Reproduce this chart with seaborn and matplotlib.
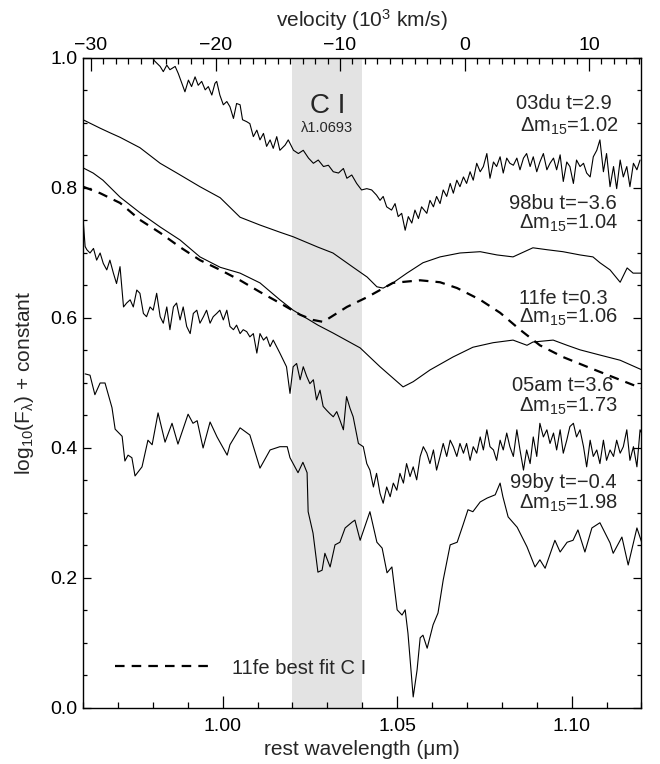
import numpy as np
import pandas as pd
import matplotlib
matplotlib.use("Agg")
import matplotlib.pyplot as plt
from matplotlib.ticker import MultipleLocator, FixedLocator, FormatStrFormatter
import seaborn as sns

# ---------------- data ----------------
W_03DU = [0.9780, 0.9804, 0.9821, 0.9830, 0.9840, 0.9849, 0.9864, 0.9873, 0.9883, 0.9892,
          0.9902, 0.9911, 0.9921, 0.9930, 0.9940, 0.9950, 0.9959, 0.9969, 0.9978, 0.9983,
          0.9992, 1.0002, 1.0012, 1.0021, 1.0031, 1.0040, 1.0050, 1.0057, 1.0069, 1.0078,
          1.0088, 1.0098, 1.0107, 1.0117, 1.0126, 1.0136, 1.0145, 1.0155, 1.0164,
          1.0179, 1.0188, 1.0203, 1.0217, 1.0231, 1.0246, 1.0260, 1.0274, 1.0289, 1.0303,
          1.0317, 1.0332, 1.0346, 1.0356, 1.0370, 1.0384, 1.0398, 1.0413, 1.0427, 1.0441,
          1.0451, 1.0460, 1.0470, 1.0484, 1.0494, 1.0503, 1.0513, 1.0523, 1.0532, 1.0542,
          1.0551, 1.0561, 1.0570, 1.0585, 1.0594, 1.0604, 1.0613, 1.0623, 1.0632, 1.0642,
          1.0652, 1.0661, 1.0671, 1.0680, 1.0690, 1.0699, 1.0709, 1.0718, 1.0728, 1.0738,
          1.0747, 1.0757, 1.0766, 1.0776, 1.0785, 1.0795, 1.0804, 1.0814, 1.0823, 1.0833,
          1.0843, 1.0852, 1.0862, 1.0871, 1.0881, 1.0890, 1.0900, 1.0909, 1.0919, 1.0929,
          1.0938, 1.0948, 1.0957, 1.0967, 1.0976, 1.0986, 1.0995, 1.1005, 1.1014, 1.1024,
          1.1034, 1.1043, 1.1053, 1.1062, 1.1072, 1.1081, 1.1091, 1.1100, 1.1110, 1.1120,
          1.1129, 1.1139, 1.1148, 1.1158, 1.1167, 1.1177, 1.1187, 1.1196]
F_03DU = [1.030, 0.996, 0.987, 0.979, 0.989, 0.982, 0.987, 0.976, 0.961, 0.948,
          0.966, 0.956, 0.971, 0.958, 0.964, 0.951, 0.956, 0.943, 0.961, 0.964,
          0.943, 0.928, 0.933, 0.925, 0.907, 0.930, 0.928, 0.905, 0.902, 0.899,
          0.879, 0.889, 0.874, 0.884, 0.864, 0.874, 0.861, 0.879, 0.858,
          0.866, 0.874, 0.858, 0.853, 0.858, 0.846, 0.838, 0.843, 0.833, 0.835,
          0.825, 0.823, 0.830, 0.815, 0.820, 0.807, 0.797, 0.799, 0.797, 0.789,
          0.781, 0.787, 0.771, 0.766, 0.776, 0.756, 0.761, 0.735, 0.756, 0.746,
          0.766, 0.753, 0.771, 0.761, 0.781, 0.771, 0.787, 0.776, 0.797, 0.787,
          0.807, 0.792, 0.812, 0.802, 0.817, 0.807, 0.825, 0.812, 0.838, 0.825,
          0.833, 0.853, 0.815, 0.840, 0.833, 0.848, 0.823, 0.846, 0.838, 0.835,
          0.846, 0.828, 0.846, 0.853, 0.833, 0.848, 0.825, 0.840, 0.853, 0.828,
          0.838, 0.846, 0.828, 0.851, 0.810, 0.840, 0.833, 0.807, 0.843, 0.833,
          0.838, 0.823, 0.817, 0.848, 0.858, 0.874, 0.825, 0.853, 0.802, 0.833,
          0.799, 0.843, 0.817, 0.833, 0.802, 0.838, 0.828, 0.843]

W_98BU = [0.9600, 0.9649, 0.9677, 0.9706, 0.9763, 0.9821, 0.9869, 0.9935, 0.9993, 1.0050,
          1.0107, 1.0164, 1.0202, 1.0273, 1.0316, 1.0374, 1.0414, 1.0442, 1.0460, 1.0488,
          1.0528, 1.0574, 1.0623, 1.0680, 1.0738, 1.0786, 1.0832, 1.0889, 1.0930, 1.0975,
          1.1024, 1.1061, 1.1081, 1.1110, 1.1139, 1.1159, 1.1176, 1.1202]
F_98BU = [0.905, 0.892, 0.885, 0.878, 0.862, 0.838, 0.823, 0.802, 0.785, 0.755,
          0.743, 0.732, 0.725, 0.709, 0.700, 0.678, 0.663, 0.648, 0.646, 0.654,
          0.669, 0.685, 0.694, 0.700, 0.702, 0.697, 0.694, 0.708, 0.705, 0.702,
          0.697, 0.694, 0.685, 0.674, 0.655, 0.677, 0.669, 0.669]

W_11FE = [0.9600, 0.9629, 0.9657, 0.9706, 0.9763, 0.9821, 0.9878, 0.9935, 0.9993, 1.0050,
          1.0107, 1.0164, 1.0202, 1.0273, 1.0316, 1.0394, 1.0451, 1.0517, 1.0546, 1.0594,
          1.0660, 1.0717, 1.0775, 1.0832, 1.0872, 1.0889, 1.0947, 1.0987, 1.1024, 1.1081,
          1.1139, 1.1202]
F_11FE = [0.831, 0.823, 0.812, 0.786, 0.762, 0.740, 0.720, 0.694, 0.678, 0.669,
          0.654, 0.628, 0.612, 0.589, 0.577, 0.554, 0.525, 0.494, 0.502, 0.520,
          0.540, 0.555, 0.562, 0.566, 0.558, 0.563, 0.566, 0.558, 0.551, 0.543,
          0.535, 0.520]

W_FIT = [0.9600, 0.9649, 0.9706, 0.9763, 0.9821, 0.9878, 0.9935, 0.9993, 1.0050, 1.0107,
         1.0164, 1.0222, 1.0259, 1.0288, 1.0356, 1.0414, 1.0488, 1.0566, 1.0623, 1.0672,
         1.0738, 1.0795, 1.0852, 1.0909, 1.0975, 1.1044, 1.1119, 1.1176, 1.1202]
F_FIT = [0.802, 0.792, 0.777, 0.751, 0.731, 0.709, 0.689, 0.674, 0.658, 0.640,
         0.623, 0.605, 0.597, 0.594, 0.617, 0.632, 0.654, 0.658, 0.655, 0.646,
         0.628, 0.608, 0.582, 0.558, 0.540, 0.525, 0.509, 0.497, 0.492]

W_05AM = [0.9601, 0.9606, 0.9611, 0.9620, 0.9630, 0.9639, 0.9649, 0.9658, 0.9668, 0.9677,
          0.9687, 0.9696, 0.9706, 0.9716, 0.9725, 0.9735, 0.9744, 0.9754, 0.9763, 0.9773,
          0.9782, 0.9792, 0.9801, 0.9811, 0.9821, 0.9830, 0.9840, 0.9849, 0.9859, 0.9868,
          0.9878, 0.9887, 0.9897, 0.9907, 0.9916, 0.9926, 0.9935, 0.9945, 0.9954, 0.9964,
          0.9973, 0.9983, 0.9992, 1.0002, 1.0012, 1.0021, 1.0031, 1.0040, 1.0050, 1.0059,
          1.0069, 1.0078, 1.0088, 1.0098, 1.0107, 1.0117, 1.0126, 1.0136, 1.0145, 1.0164,
          1.0183, 1.0193, 1.0202, 1.0212, 1.0222, 1.0231, 1.0241, 1.0250, 1.0260, 1.0269,
          1.0279, 1.0288, 1.0298, 1.0307, 1.0317, 1.0327, 1.0336, 1.0346, 1.0355, 1.0365,
          1.0374, 1.0389, 1.0403, 1.0413, 1.0422, 1.0432, 1.0441, 1.0451, 1.0460, 1.0470,
          1.0480, 1.0489, 1.0499, 1.0508, 1.0518, 1.0527, 1.0537, 1.0546, 1.0556, 1.0566,
          1.0575, 1.0585, 1.0594, 1.0604, 1.0613, 1.0623, 1.0632, 1.0642, 1.0652, 1.0661,
          1.0671, 1.0680, 1.0690, 1.0699, 1.0709, 1.0718, 1.0728, 1.0738, 1.0747, 1.0757,
          1.0766, 1.0776, 1.0785, 1.0795, 1.0804, 1.0814, 1.0823, 1.0833, 1.0843, 1.0852,
          1.0862, 1.0871, 1.0881, 1.0890, 1.0900, 1.0909, 1.0919, 1.0929, 1.0938, 1.0948,
          1.0957, 1.0967, 1.0976, 1.0986, 1.0995, 1.1005, 1.1014, 1.1024, 1.1034, 1.1043,
          1.1053, 1.1062, 1.1072, 1.1081, 1.1091, 1.1100, 1.1110, 1.1120, 1.1129, 1.1139,
          1.1148, 1.1158, 1.1167, 1.1177, 1.1187, 1.1196, 1.1206]
F_05AM = [0.746, 0.710, 0.705, 0.700, 0.707, 0.689, 0.700, 0.684, 0.674, 0.689,
          0.669, 0.653, 0.679, 0.617, 0.623, 0.628, 0.617, 0.643, 0.638, 0.607,
          0.602, 0.617, 0.612, 0.638, 0.602, 0.592, 0.617, 0.582, 0.617, 0.623,
          0.597, 0.617, 0.587, 0.576, 0.607, 0.612, 0.592, 0.602, 0.612, 0.592,
          0.602, 0.607, 0.612, 0.597, 0.612, 0.587, 0.582, 0.589, 0.576, 0.582,
          0.579, 0.571, 0.576, 0.546, 0.576, 0.566, 0.571, 0.556, 0.566, 0.546,
          0.525, 0.484, 0.525, 0.530, 0.505, 0.525, 0.510, 0.499, 0.505, 0.474,
          0.489, 0.464, 0.458, 0.453, 0.448, 0.456, 0.443, 0.428, 0.479, 0.461,
          0.448, 0.407, 0.402, 0.376, 0.366, 0.340, 0.361, 0.330, 0.315, 0.340,
          0.325, 0.346, 0.335, 0.361, 0.346, 0.376, 0.356, 0.371, 0.351, 0.387,
          0.402, 0.392, 0.376, 0.397, 0.366, 0.387, 0.407, 0.387, 0.412, 0.402,
          0.387, 0.407, 0.392, 0.407, 0.381, 0.402, 0.392, 0.417, 0.397, 0.428,
          0.402, 0.397, 0.381, 0.412, 0.397, 0.423, 0.402, 0.387, 0.428, 0.397,
          0.366, 0.397, 0.376, 0.417, 0.387, 0.438, 0.417, 0.428, 0.407, 0.423,
          0.397, 0.428, 0.392, 0.412, 0.433, 0.438, 0.417, 0.428, 0.402, 0.371,
          0.412, 0.387, 0.397, 0.376, 0.412, 0.381, 0.397, 0.387, 0.412, 0.392,
          0.402, 0.428, 0.381, 0.402, 0.371, 0.428, 0.417]

W_99BY = [0.9606, 0.9620, 0.9634, 0.9649, 0.9663, 0.9683, 0.9692, 0.9712, 0.9720, 0.9729,
          0.9740, 0.9749, 0.9769, 0.9786, 0.9798, 0.9815, 0.9835, 0.9855, 0.9872, 0.9901,
          0.9915, 0.9927, 0.9944, 0.9964, 0.9984, 1.0013, 1.0021, 1.0050, 1.0078, 1.0107,
          1.0136, 1.0164, 1.0185, 1.0193, 1.0216, 1.0230, 1.0242, 1.0245, 1.0259, 1.0273,
          1.0285, 1.0293, 1.0308, 1.0322, 1.0336, 1.0351, 1.0371, 1.0379, 1.0394, 1.0422,
          1.0442, 1.0457, 1.0471, 1.0485, 1.0500, 1.0514, 1.0523, 1.0531, 1.0546, 1.0557,
          1.0566, 1.0574, 1.0586, 1.0603, 1.0617, 1.0632, 1.0652, 1.0672, 1.0689, 1.0703,
          1.0717, 1.0738, 1.0758, 1.0781, 1.0795, 1.0803, 1.0818, 1.0844, 1.0872, 1.0895,
          1.0909, 1.0924, 1.0952, 1.0967, 1.0987, 1.1004, 1.1018, 1.1038, 1.1058, 1.1081,
          1.1110, 1.1119, 1.1144, 1.1162, 1.1187, 1.1205]
F_99BY = [0.514, 0.512, 0.482, 0.500, 0.500, 0.462, 0.429, 0.418, 0.380, 0.389,
          0.385, 0.357, 0.371, 0.412, 0.405, 0.454, 0.409, 0.438, 0.406, 0.452,
          0.438, 0.442, 0.400, 0.440, 0.417, 0.389, 0.405, 0.431, 0.420, 0.369,
          0.397, 0.402, 0.402, 0.385, 0.362, 0.378, 0.362, 0.302, 0.269, 0.209,
          0.212, 0.238, 0.217, 0.251, 0.255, 0.277, 0.286, 0.289, 0.258, 0.302,
          0.255, 0.246, 0.208, 0.217, 0.151, 0.143, 0.151, 0.115, 0.017, 0.058,
          0.108, 0.112, 0.092, 0.128, 0.146, 0.197, 0.251, 0.255, 0.282, 0.305,
          0.302, 0.317, 0.323, 0.328, 0.346, 0.325, 0.294, 0.278, 0.248, 0.217,
          0.228, 0.215, 0.258, 0.240, 0.255, 0.258, 0.274, 0.240, 0.277, 0.285,
          0.254, 0.238, 0.263, 0.220, 0.277, 0.248]

SN_NAMES = ["03du t=2.9", "98bu t=\u22123.6", "11fe t=0.3", "05am t=3.6", "99by t=\u22120.4"]
DM15 = ["1.02", "1.04", "1.06", "1.73", "1.98"]
BAND = (1.02, 1.04)
LAM0 = 1.0693
VEL_TICKS = [-30, -20, -10, 0, 10]
FIT_LABEL = "11fe best fit C I"

# ---------------- style ----------------
sns.set_style("ticks")
plt.rcParams["font.family"] = ["Liberation Sans", "DejaVu Sans"]
plt.rcParams["mathtext.fontset"] = "custom"
plt.rcParams["mathtext.rm"] = "Liberation Sans"
plt.rcParams["mathtext.it"] = "Liberation Sans:italic"
plt.rcParams["mathtext.bf"] = "Liberation Sans:bold"
plt.rcParams["axes.unicode_minus"] = True
plt.rcParams["axes.axisbelow"] = False
for a in ("xtick", "ytick"):
    plt.rcParams[f"{a}.direction"] = "in"
    plt.rcParams[f"{a}.color"] = "black"
    plt.rcParams[f"{a}.major.width"] = 0.9
    plt.rcParams[f"{a}.minor.width"] = 0.9

FS_LAB = 15
FS_TXT = 14.5
FS_TICK = 14
fig = plt.figure(figsize=(6.6, 7.64), dpi=100)
ax = fig.add_axes([0.1258, 0.0733, 0.8461, 0.8508])

ax.axvspan(BAND[0], BAND[1], color="#e3e3e3", lw=0, zorder=0)

spectra = [(W_03DU, F_03DU), (W_98BU, F_98BU), (W_11FE, F_11FE), (W_05AM, F_05AM), (W_99BY, F_99BY)]
for w, f in spectra:
    df = pd.DataFrame({"w": w, "f": f})
    sns.lineplot(data=df, x="w", y="f", ax=ax, color="black", lw=0.8,
                 estimator=None, sort=False, zorder=3)

dff = pd.DataFrame({"w": W_FIT, "f": F_FIT})
sns.lineplot(data=dff, x="w", y="f", ax=ax, color="black", lw=1.6,
             estimator=None, sort=False, linestyle=(0, (4.3, 3.2)), label=FIT_LABEL, zorder=4)

ax.set_xlim(0.96, 1.12)
ax.set_ylim(0.0, 1.0)

# axes ticks
ax.xaxis.set_major_locator(MultipleLocator(0.05))
ax.xaxis.set_minor_locator(MultipleLocator(0.01))
ax.xaxis.set_major_formatter(FormatStrFormatter("%.2f"))
ax.yaxis.set_major_locator(MultipleLocator(0.2))
ax.yaxis.set_minor_locator(MultipleLocator(0.05))
ax.yaxis.set_major_formatter(FormatStrFormatter("%.1f"))
ax.tick_params(axis="x", which="major", direction="in", length=9, width=0.9, color="black",
               labelsize=FS_TICK, pad=7, top=False, bottom=True)
ax.tick_params(axis="x", which="minor", direction="in", length=4.5, width=0.9, color="black",
               top=False, bottom=True)
ax.tick_params(axis="y", which="major", direction="in", length=6, width=0.9, color="black",
               labelsize=FS_TICK, pad=4, left=True, right=True)
ax.tick_params(axis="y", which="minor", direction="in", length=3, width=0.9, color="black",
               left=True, right=True)
for s in ax.spines.values():
    s.set_visible(True)
    s.set_linewidth(1.0)
    s.set_color("black")

ax.set_xlabel("rest wavelength (μm)", fontsize=FS_LAB, labelpad=4)
ax.set_ylabel("log$_{10}$(F$_{\\mathrm{λ}}$) + constant", fontsize=FS_LAB, labelpad=10)

# velocity axis on top
CKM = 299.792458
def l2v(l):
    return (np.asarray(l) / LAM0 - 1.0) * CKM
def v2l(v):
    return LAM0 * (1.0 + np.asarray(v) / CKM)
sec = ax.secondary_xaxis("top", functions=(l2v, v2l))
sec.xaxis.set_major_locator(FixedLocator(VEL_TICKS))
sec.xaxis.set_minor_locator(MultipleLocator(1))
sec.tick_params(which="major", direction="in", length=9, width=0.9, color="black",
                labelsize=FS_TICK, pad=3)
sec.tick_params(which="minor", direction="in", length=4.5, width=0.9, color="black")
sec.set_xlabel("velocity (10$^3$ km/s)", fontsize=FS_LAB, labelpad=7)

# band annotation
bc = 0.5 * (BAND[0] + BAND[1])
ax.text(bc, 0.915, "C I", ha="center", va="baseline", fontsize=20, zorder=5)
ax.text(bc, 0.886, "λ1.0693", ha="center", va="baseline", fontsize=10.5, zorder=5)

# spectrum labels
NAME_X = [1.1116, 1.1130, 1.1104, 1.1119, 1.1130]
NAME_Y = [0.922, 0.767, 0.622, 0.487, 0.338]
DM_Y = [0.887, 0.738, 0.592, 0.456, 0.307]
for name, dm, nx, ny, dy in zip(SN_NAMES, DM15, NAME_X, NAME_Y, DM_Y):
    ax.text(nx, ny, name, ha="right", va="baseline", fontsize=FS_TXT, zorder=5)
    ax.text(1.1133, dy, "$\\Delta$m$_{15}$=" + dm, ha="right", va="baseline",
            fontsize=FS_TXT, zorder=5)

leg = ax.legend(loc="center left", bbox_to_anchor=(0.058, 0.0615), frameon=False,
                fontsize=FS_TXT, handlelength=4.9, handletextpad=0.9,
                borderpad=0, borderaxespad=0)

fig.savefig("out.png", dpi=100)
